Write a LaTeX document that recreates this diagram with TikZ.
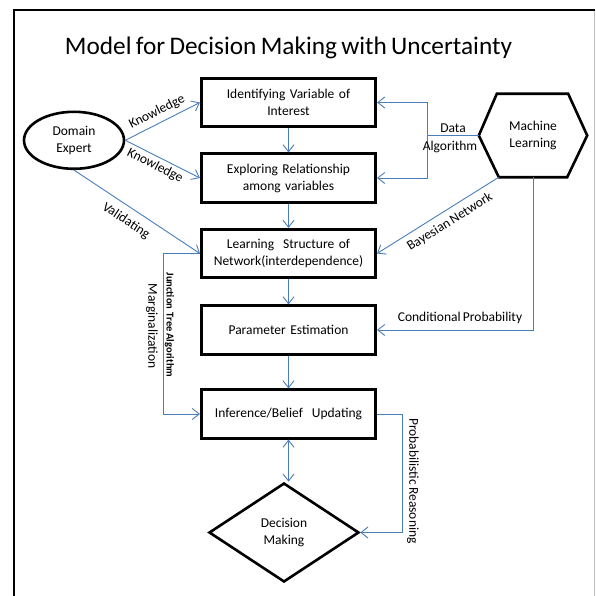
\documentclass[tikz,border=0pt]{standalone}
\usepackage{fontspec}
\setmainfont{Carlito}[WordSpace=0.75]
\usetikzlibrary{arrows.meta,shapes.geometric,calc}
\definecolor{lineblue}{HTML}{4A7EBB}
\tikzset{
  stepbox/.style={draw=black, line width=2.6pt, minimum width=174.5pt, minimum height=48.5pt, inner sep=0pt, align=center, text width=170pt, font=\fontsize{13.5}{17}\selectfont},
  lbl/.style={inner sep=0pt, font=\fontsize{13.5}{17}\selectfont, align=center},
  arr/.style={draw=lineblue, line width=0.9pt, -{Straight Barb[length=7pt,width=11pt]}},
  darr/.style={draw=lineblue, line width=0.9pt, {Straight Barb[length=7pt,width=11pt]}-{Straight Barb[length=7pt,width=11pt]}},
  plain/.style={draw=lineblue, line width=0.9pt},
}
\begin{document}
\begin{tikzpicture}[x=1pt,y=1pt]
\useasboundingbox (0,0) rectangle (595,-596);
% frame
\draw[line width=2.8pt] (14,-596) -- (14,-10) -- (595,-10);
\draw[gray!50, line width=0.8pt] (594.4,-11) -- (594.4,-596);
% title
\node[anchor=base, inner sep=0pt, font=\fontsize{25.3}{30}\selectfont] (title) at (288.5,-55) {Model for Decision Making with Uncertainty};
% boxes
\node[stepbox] (b1) at (288.5,-102.5) {Identifying Variable of\\Interest};
\node[stepbox] (b2) at (288.5,-178) {Exploring Relationship\\among variables};
\node[stepbox] (b3) at (288.5,-253.5) {Learning\ \ Structure of\\Network(interdependence)};
\node[stepbox] (b4) at (288.5,-330) {Parameter Estimation};
\node[stepbox] (b5) at (288.5,-414) {Inference/Belief\ \ Updating};
\node[diamond, draw=black, line width=2.6pt, minimum width=150pt, minimum height=99pt, inner sep=0pt, align=center, font=\fontsize{13.5}{17}\selectfont] (dm) at (284,-532.5) {Decision\\Making};
% domain expert
\node[ellipse, draw=black, line width=2.6pt, minimum width=100pt, minimum height=57pt, inner sep=0pt, align=center, font=\fontsize{13.5}{17}\selectfont] (de) at (74,-140.3) {Domain\\Expert};
% machine learning hexagon
\node[minimum width=108pt, minimum height=83pt, inner sep=0pt, align=center, font=\fontsize{13.5}{17}\selectfont] (ml) at (533,-135.5) {Machine\\Learning};
\coordinate (mltl) at ([xshift=18pt]ml.north west);
\coordinate (mltr) at ([xshift=-19pt]ml.north east);
\coordinate (mlbr) at ([xshift=-20pt]ml.south east);
\coordinate (mlbl) at ([xshift=20pt]ml.south west);
\draw[line width=2.6pt, line join=miter] (ml.west) -- (mltl) -- (mltr) -- (ml.east) -- (mlbr) -- (mlbl) -- cycle;
% vertical flow
\draw[arr] (b1) -- (b2);
\draw[arr] (b2) -- (b3);
\draw[arr] (b3) -- (b4);
\draw[arr] (b4) -- (b5);
\draw[darr] (b5.south) -- (b5.south |- dm.north);
% domain expert arrows
\draw[arr] (de.east) -- (b1.west);
\draw[arr] (de.east) -- (b2.west);
\draw[arr] (de.south) -- (b3.west);
\node[lbl, rotate=26.6] (k1) at (157,-112) {Knowledge};
\node[lbl, rotate=-26.9] (k2) at (155,-166) {Knowledge};
\node[lbl, rotate=-33.5] (val) at (126,-221) {Validating};
% data algorithm
\coordinate (da) at (427,-135.5);
\draw[plain] (ml.west) -- (da);
\draw[arr] (da) |- (b1.east);
\draw[arr] (da) |- (b2.east);
\node[lbl, font=\fontsize{13.5}{18}\selectfont] (dal) at (450,-138) {\hspace*{6pt}Data\\Algorithm};
% bayesian network
\draw[arr] (mlbl) -- (b3.east);
\node[lbl, rotate=32] (bn) at (450,-222) {Bayesian Network};
% conditional probability
\draw[arr] (ml.south) -- (ml.south |- b4.east) -- (b4.east);
\node[lbl] (cp) at (460,-318) {Conditional Probability};
% junction tree
\coordinate (jt1) at (163,-253.5);
\draw[plain] (b3.west) -- (jt1);
\draw[arr] (jt1) |- (b5.west);
\node[inner sep=0pt, rotate=-90, font=\bfseries\fontsize{10.5}{13}\selectfont] (jt) at (169.5,-325) {Junction\ \ Tree Algorithm};
\node[lbl, rotate=-90] (mg) at (152,-326) {Marginalization};
% probabilistic reasoning
\coordinate (pr1) at (402,-414);
\draw[plain] (b5.east) -- (pr1);
\draw[arr] (pr1) |- (dm.east);
\node[lbl, rotate=-90] (prl) at (413,-481) {Probabilistic Reasoning};
\end{tikzpicture}
\end{document}
